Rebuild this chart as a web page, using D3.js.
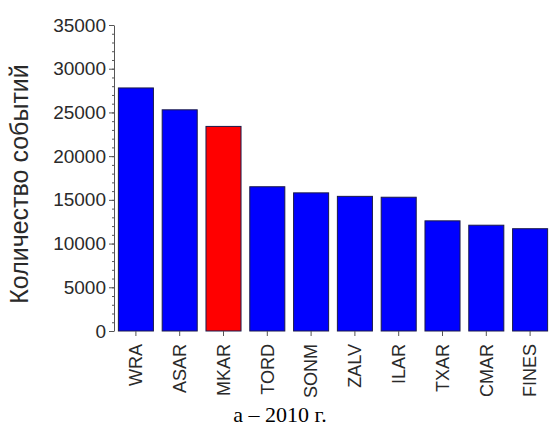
<!DOCTYPE html>
<html>
<head>
<meta charset="utf-8">
<script src="https://cdn.jsdelivr.net/npm/d3@7"></script>
<style>
  body { margin: 0; background: #fff; }
  svg { display: block; }
  .axis text { font-family: "Liberation Sans", Arial, sans-serif; fill: #2a2a2a; }
  .axis path, .axis line { stroke: #555; }
</style>
</head>
<body>
<svg id="chart" width="549" height="427"></svg>
<script>
var stations = ['WRA', 'ASAR', 'MKAR', 'TORD', 'SONM', 'ZALV', 'ILAR', 'TXAR', 'CMAR', 'FINES'];
var counts = [27800, 25300, 23400, 16500, 15800, 15400, 15300, 12600, 12100, 11700];
var highlight = 'MKAR';
var yTicks = [0, 5000, 10000, 15000, 20000, 25000, 30000, 35000];

var svg = d3.select('#chart');
var margin = {top: 25, right: 0, bottom: 96, left: 114};
var width = 552 - margin.left;
var height = 331 - margin.top;

var g = svg.append('g')
    .attr('transform', 'translate(' + margin.left + ',' + margin.top + ')');

var x = d3.scaleBand()
    .domain(stations)
    .range([0, width])
    .paddingInner(0.2)
    .paddingOuter(0.1);

var y = d3.scaleLinear()
    .domain([0, 35000])
    .range([height, 0]);

g.selectAll('.bar')
  .data(stations)
  .enter().append('rect')
  .attr('class', 'bar')
  .attr('x', function (d) { return x(d); })
  .attr('width', x.bandwidth())
  .attr('y', function (d, i) { return y(counts[i]); })
  .attr('height', function (d, i) { return height - y(counts[i]); })
  .style('fill', function (d) { return d === highlight ? '#ff0000' : '#0000ff'; })
  .style('stroke', '#1a1a4a')
  .style('stroke-width', 1);

// minor ticks on the y axis
g.append('g')
  .attr('class', 'axis')
  .call(d3.axisLeft(y).ticks(35).tickSize(2).tickFormat(''))
  .select('.domain').remove();

var yAxis = g.append('g')
  .attr('class', 'axis')
  .call(d3.axisLeft(y).tickValues(yTicks).tickFormat(d3.format('d'))
        .tickSize(5).tickPadding(3).tickSizeOuter(0));
yAxis.selectAll('text').style('font-size', '19px');

var xAxis = g.append('g')
  .attr('class', 'axis')
  .attr('transform', 'translate(0,' + height + ')')
  .call(d3.axisBottom(x).tickSize(5).tickSizeOuter(0));
xAxis.select('.domain').remove();
xAxis.selectAll('text')
  .style('font-size', '18px')
  .attr('transform', 'rotate(-90)')
  .attr('x', -13)
  .attr('y', 0)
  .attr('dy', '0.35em')
  .style('text-anchor', 'end');

svg.append('text')
  .attr('transform', 'translate(28,184) rotate(-90)')
  .attr('text-anchor', 'middle')
  .style('font-family', '"Liberation Sans", Arial, sans-serif')
  .style('font-size', '25px')
  .style('fill', '#2a2a2a')
  .text('Количество событий');

svg.append('text')
  .attr('x', 280)
  .attr('y', 422)
  .attr('text-anchor', 'middle')
  .style('font-family', '"Liberation Serif", "Times New Roman", serif')
  .style('font-size', '22px')
  .style('fill', '#000')
  .text('а – 2010 г.');
</script>
</body>
</html>
